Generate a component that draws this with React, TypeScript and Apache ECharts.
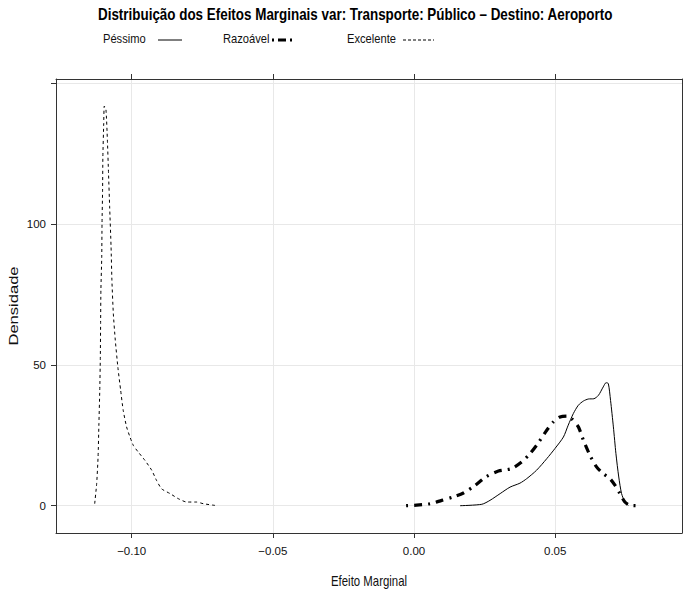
import React, { useEffect, useRef } from "react";
import * as echarts from "echarts";

// ---- data ----
const excelenteX = [-0.1131, -0.1124, -0.1119, -0.1116, -0.1113, -0.1111, -0.111, -0.1109, -0.1106, -0.1105, -0.1103, -0.1102, -0.1099, -0.1097, -0.1091, -0.1086, -0.1082, -0.1078, -0.1073, -0.107, -0.1065, -0.1058, -0.1049, -0.1039, -0.103, -0.1018, -0.1006, -0.0994, -0.0977, -0.0953, -0.0929, -0.0912, -0.0894, -0.0864, -0.0835, -0.0805, -0.077, -0.0746, -0.0705];
const excelenteY = [0.7, 7.8, 17.3, 29.2, 41.0, 52.8, 64.7, 76.6, 88.4, 100.3, 112.1, 124.0, 135.8, 142.0, 140.6, 129.9, 118.1, 106.2, 92.0, 80.1, 68.3, 58.8, 49.3, 41.0, 33.9, 28.0, 24.4, 21.4, 19.1, 16.1, 12.6, 9.0, 6.0, 4.3, 2.5, 1.3, 1.3, 0.7, 0.1];

const pessimoX = [0.0163, 0.024, 0.0269, 0.0305, 0.034, 0.0375, 0.0399, 0.0434, 0.047, 0.0499, 0.0529, 0.0546, 0.0564, 0.0582, 0.06, 0.0617, 0.0637, 0.0653, 0.067, 0.068, 0.0688, 0.0696, 0.0706, 0.0715, 0.0725, 0.0735, 0.0747, 0.0759];
const pessimoY = [0, 0.5, 1.9, 4.3, 6.6, 8.0, 9.6, 12.6, 16.7, 20.3, 24.4, 28.6, 32.7, 35.7, 37.2, 37.9, 38.0, 39.2, 42.2, 43.7, 43.4, 37.4, 28.0, 18.5, 10.2, 4.3, 1.3, 0.1];

const razoavelX = [-0.0028, 0.0009, 0.0057, 0.0098, 0.0139, 0.0175, 0.0216, 0.0257, 0.0299, 0.0346, 0.0381, 0.0411, 0.044, 0.047, 0.0493, 0.0517, 0.0541, 0.0558, 0.0582, 0.06, 0.0623, 0.0647, 0.067, 0.0694, 0.0712, 0.0729, 0.0747, 0.0765, 0.0806];
const razoavelY = [0, 0.2, 0.7, 1.9, 3.1, 4.5, 7.2, 10.4, 12.3, 13.2, 15.5, 18.5, 22.3, 26.8, 29.7, 31.5, 31.8, 30.9, 28.0, 23.2, 17.9, 13.7, 11.4, 9.6, 7.2, 4.3, 1.3, 0.1, 0];

const xTicks = [-0.1, -0.05, 0, 0.05];
const xTickLabels = ["\u22120.10", "\u22120.05", "0.00", "0.05"];
const yTicks = [0, 50, 100, 150];
const yTickLabels = ["0", "50", "100", ""];

const seriesNames = ["Péssimo", "Razoável", "Excelente"];
const titleText = "Distribuição dos Efeitos Marginais var: Transporte: Público \u2013 Destino: Aeroporto";
const xLabel = "Efeito Marginal";
const yLabel = "Densidade";

const SANS = "'Liberation Sans', Arial, sans-serif";
const NARROW_SCALE = 0.82;

function pairs(xs: number[], ys: number[]) {
  return xs.map((x, i) => [x, ys[i]]);
}

function lookup(ticks: number[], labels: string[], v: number) {
  for (let i = 0; i < ticks.length; i++) {
    if (Math.abs(ticks[i] - v) < 1e-9) return labels[i];
  }
  return "";
}

let ctx: CanvasRenderingContext2D | null = null;
function measure(text: string, font: string) {
  if (!ctx) ctx = document.createElement("canvas").getContext("2d");
  ctx!.font = font;
  return ctx!.measureText(text).width;
}

// narrow-looking text: regular sans squeezed horizontally, sized to a target width
function narrowTextFit(text: string, x: number, y: number, targetW: number, bold: boolean, align: string) {
  const w1 = measure(text, `${bold ? "bold " : ""}100px ${SANS}`) / 100;
  const fs = targetW / (w1 * NARROW_SCALE);
  return narrowText(text, x, y, fs, bold, align);
}

function narrowText(text: string, x: number, y: number, fs: number, bold: boolean, align: string) {
  return {
    type: "text",
    x,
    y,
    scaleX: NARROW_SCALE,
    style: {
      text,
      font: `${bold ? "bold " : ""}${fs.toFixed(2)}px ${SANS}`,
      align,
      verticalAlign: "middle",
      fill: bold ? "#000" : "#111",
    },
  };
}

export default function App() {
  const ref = useRef<HTMLDivElement>(null);
  useEffect(() => {
    const chart = echarts.init(ref.current!, null, { renderer: "svg" });
    const X_MIN = -0.1268, X_MAX = 0.0949, Y_MIN = -9.7, Y_MAX = 151.6;
    const boxColor = "#333";
    const gridColor = "#e8e8e8";
    const tickStyle = { color: boxColor, width: 1 };
    const labelStyle = { color: "#111", fontSize: 11.5, fontFamily: SANS };
    const legendFs = 13.6;

    chart.setOption({
      animation: false,
      backgroundColor: "#fff",
      grid: { left: 56, top: 79, right: 1, bottom: 62, containLabel: false },
      xAxis: [
        {
          type: "value",
          position: "bottom",
          min: X_MIN,
          max: X_MAX,
          axisLine: { show: true, onZero: false, lineStyle: tickStyle },
          axisTick: { show: true, length: 5, customValues: xTicks, lineStyle: tickStyle },
          axisLabel: {
            show: true,
            customValues: xTicks,
            margin: 12,
            ...labelStyle,
            formatter: (v: number) => lookup(xTicks, xTickLabels, v),
          },
          splitLine: { show: true, lineStyle: { color: gridColor, width: 1 } },
        },
        {
          type: "value",
          position: "top",
          min: X_MIN,
          max: X_MAX,
          axisLine: { show: true, onZero: false, lineStyle: tickStyle },
          axisTick: { show: true, length: 5, customValues: xTicks, lineStyle: tickStyle },
          axisLabel: { show: false },
          splitLine: { show: false },
        },
      ],
      yAxis: [
        {
          type: "value",
          position: "left",
          min: Y_MIN,
          max: Y_MAX,
          axisLine: { show: true, onZero: false, lineStyle: tickStyle },
          axisTick: { show: true, length: 5, customValues: yTicks, lineStyle: tickStyle },
          axisLabel: {
            show: true,
            customValues: yTicks,
            margin: 10,
            ...labelStyle,
            formatter: (v: number) => lookup(yTicks, yTickLabels, v),
          },
          splitLine: { show: true, lineStyle: { color: gridColor, width: 1 } },
        },
        {
          type: "value",
          position: "right",
          min: Y_MIN,
          max: Y_MAX,
          axisLine: { show: true, onZero: false, lineStyle: tickStyle },
          axisTick: { show: true, length: 5, customValues: yTicks, lineStyle: tickStyle },
          axisLabel: { show: false },
          splitLine: { show: false },
        },
      ],
      graphic: [
        // title
        narrowTextFit(titleText, 98, 14, 515, true, "left"),
        // axis titles
        narrowTextFit(xLabel, 369, 581, 76, false, "center"),
        {
          type: "text",
          x: 14,
          y: 306,
          rotation: Math.PI / 2,
          scaleX: 1.38,
          style: { text: yLabel, align: "center", verticalAlign: "middle", font: `12px ${SANS}`, fill: "#111" },
        },
        // legend row
        narrowText(seriesNames[0], 103, 39, legendFs, false, "left"),
        { type: "line", shape: { x1: 158, y1: 40, x2: 182, y2: 40 }, style: { stroke: "#000", lineWidth: 1 } },
        narrowText(seriesNames[1], 223, 39, legendFs, false, "left"),
        { type: "line", shape: { x1: 272, y1: 40, x2: 294, y2: 40 }, style: { stroke: "#000", lineWidth: 3, lineDash: [2, 4, 8, 4, 2, 10] } },
        narrowText(seriesNames[2], 347, 39, legendFs, false, "left"),
        { type: "line", shape: { x1: 403, y1: 40, x2: 434, y2: 40 }, style: { stroke: "#000", lineWidth: 1, lineDash: [3, 2] } },
      ],
      series: [
        {
          name: seriesNames[0],
          type: "line",
          data: pairs(pessimoX, pessimoY),
          showSymbol: false,
          symbol: "none",
          smooth: 0.25,
          clip: true,
          lineStyle: { color: "#000", width: 1, type: "solid" },
        },
        {
          name: seriesNames[1],
          type: "line",
          data: pairs(razoavelX, razoavelY),
          showSymbol: false,
          symbol: "none",
          smooth: 0.25,
          clip: true,
          lineStyle: { color: "#000", width: 3.2, type: [2, 6, 8, 6], cap: "butt" },
        },
        {
          name: seriesNames[2],
          type: "line",
          data: pairs(excelenteX, excelenteY),
          showSymbol: false,
          symbol: "none",
          smooth: 0.2,
          clip: true,
          lineStyle: { color: "#000", width: 1, type: [3, 3] },
        },
      ],
    });
    return () => chart.dispose();
  }, []);
  return (
    <div
      ref={ref}
      style={{ position: "fixed", left: 0, top: 0, width: 683, height: 595, background: "#fff" }}
    />
  );
}
